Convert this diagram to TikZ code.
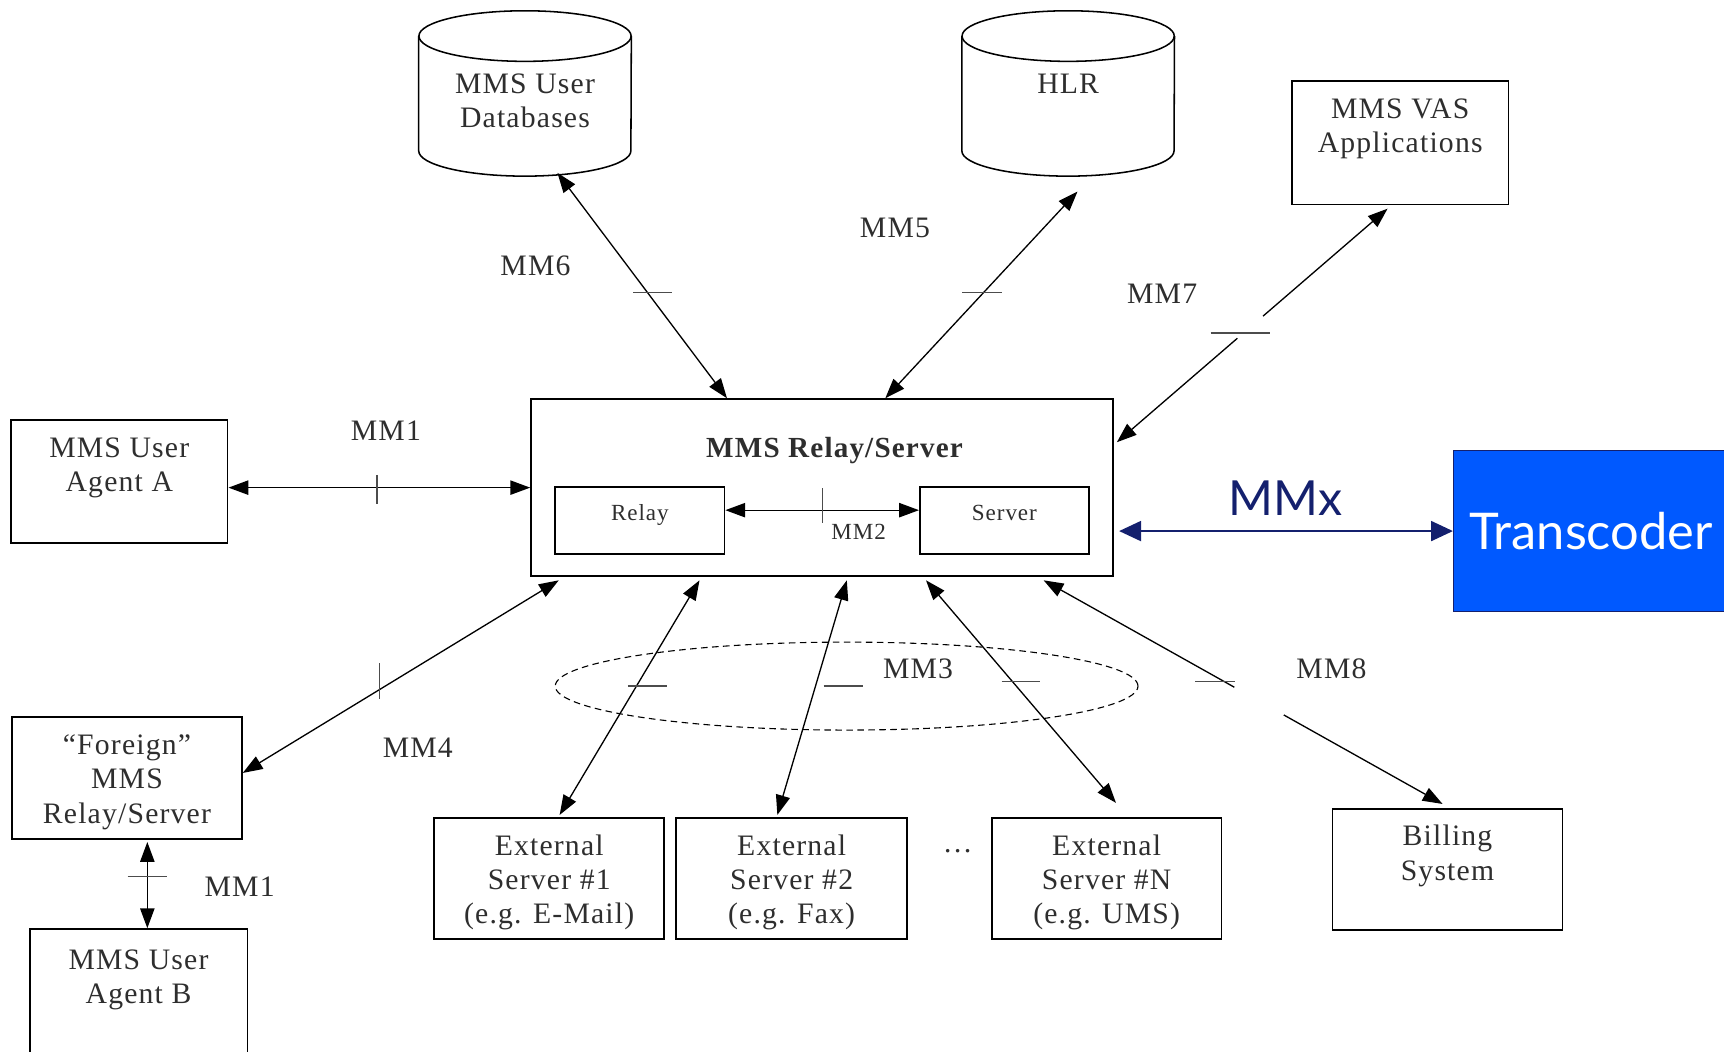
\documentclass[tikz,border=0pt]{standalone}
\usepackage{fontspec}
\setmainfont{Liberation Serif}[LetterSpace=4]
\newfontfamily\gillfont{Lato}
\usetikzlibrary{arrows.meta,shapes.geometric,calc}
\definecolor{txtgray}{HTML}{2E2E2E}
\definecolor{tcblue}{HTML}{0059FF}
\definecolor{mmxnavy}{HTML}{14206E}

\begin{document}
\begin{tikzpicture}[x=1pt, y=1pt,
    every node/.style={text=txtgray, font=\fontsize{27}{31}\selectfont, align=center},
    entity/.style={draw=black, line width=1.6pt, rectangle, inner sep=0pt},
    inner/.style={entity, line width=1.4pt, minimum width=154, minimum height=61,
      text height=14pt, text depth=15pt, font=\fontsize{21}{25}\selectfont},
    store/.style={rectangle, inner sep=0pt, minimum width=193, minimum height=150, text height=62pt},
    cyl/.style={draw=black, line width=1.4pt},
    iface/.style={inner sep=0pt},
    link/.style={line width=1.2pt},
    >={Triangle[length=18pt, width=13pt]},
    tickmark/.style={line width=1.2pt, draw=black!70}]
  \useasboundingbox (0,0) rectangle (1568,-956);
  \clip (0,0) rectangle (1568,-956);

  % MM3 group
  \node (mm3grp) [ellipse, draw, line width=1pt, dash pattern=on 6pt off 4pt,
    minimum width=530, minimum height=80] at (770,-624) {};

  % stores and boxes
  \node (db) [store] at (477.5,-85) {MMS User\\Databases};
  \node (hlr) [store] at (971.5,-85) {HLR\\\mbox{}};
  \foreach \st in {db,hlr} {
    \draw[cyl] ([yshift=-23]\st.north west) -- ([yshift=23]\st.south west)
      arc[start angle=180, end angle=360, x radius=96.5, y radius=23] -- ([yshift=-23]\st.north east);
    \draw[cyl] ([yshift=-23]\st.north) ellipse[x radius=96.5, y radius=23];
  }
  \node (vas) [entity, minimum width=197, minimum height=112] at (1273.5,-130) {MMS VAS\\Applications\\\mbox{}};
  \node (rs) [entity, minimum width=529, minimum height=161] at (747.5,-443.5) {};
  \node (rstitle) [font=\bfseries\fontsize{26.5}{31}\selectfont] at (759,-410) {MMS Relay/Server};
  \node (relay) [inner] at (582,-473.5) {Relay};
  \node (server) [inner] at (913.5,-473.5) {Server};
  \node (uaa) [entity, minimum width=197, minimum height=112] at (108.5,-438) {MMS User\\Agent A\\\mbox{}};
  \node (fr) [entity, minimum width=209, minimum height=111, text height=88pt] at (115.5,-707.5) {“Foreign”\\MMS\\Relay/Server};
  \node (uab) [entity, minimum width=198, minimum height=118] at (126,-904) {MMS User\\Agent B\\\mbox{}};
  \node (ext1) [entity, minimum width=209, minimum height=110, text height=88pt] at (499.5,-799) {External\\Server \#1\\(e.g. E-Mail)};
  \node (ext2) [entity, minimum width=210, minimum height=110, text height=88pt] at (720,-799) {External\\Server \#2\\(e.g. Fax)};
  \node (extn) [entity, minimum width=209, minimum height=110, text height=88pt] at (1006.5,-799) {External\\Server \#N\\(e.g. UMS)};
  \node (dots) at (871,-774) {\dots};
  \node (bill) [entity, minimum width=209, minimum height=110] at (1316.5,-791) {Billing\\System\\\mbox{}};
  \node (tc) [draw=mmxnavy, fill=tcblue, line width=1pt, minimum width=250, minimum height=146,
    text=white, font=\gillfont\fontsize{46}{50}\selectfont] at (1447,-483) {Transcoder};

  % interface labels
  \node (lmm1) [iface] at (351,-392) {MM1};
  \node (lmm6) [iface] at (487,-242) {MM6};
  \node (lmm5) [iface] at (814,-207) {MM5};
  \node (lmm7) [iface] at (1057,-267) {MM7};
  \node (lmm2) [iface, font=\fontsize{21}{25}\selectfont] at (781,-484) {MM2};
  \node (lmm4) [iface] at (380,-680) {MM4};
  \node (lmm1b) [iface] at (218,-806) {MM1};
  \node (lmm3) [iface] at (835,-608) {MM3};
  \node (lmm8) [iface] at (1211,-608) {MM8};
  \node (lmmx) [iface, text=mmxnavy, font=\gillfont\fontsize{44}{48}\selectfont] at (1169,-453) {MMx};

  % connectors
  \draw[link,<->] (rs.west) -- (rs.west -| uaa.east);
  \draw[link,<->] ([yshift=9.5]relay.east) -- ([yshift=9.5]server.west);
  \draw[link,<->] ([xshift=29.5,yshift=3]db.south) -- ([xshift=179]rs.north west);
  \draw[link,<->] ([xshift=8.5,yshift=-14]hlr.south) -- ([xshift=323]rs.north west);
  \draw[link,<->] ([xshift=26,yshift=-3]rs.south west) -- ([yshift=4.5]fr.east);
  \draw[link,<->] ([xshift=18.5,yshift=-2]fr.south) -- ([xshift=18.5]fr.south |- uab.north);
  \foreach \dx/\dest/\ex/\ey in {154/ext1/9.5/2, 288/ext2/-13/2, 360/extn/8.5/13}
    \draw[link,<->] ([xshift=\dx,yshift=-3]rs.south west) -- ([xshift=\ex,yshift=\ey]\dest.north);

  \coordinate (p7a) at ([xshift=-11.5,yshift=-3]vas.south);
  \coordinate (p7b) at ([xshift=3,yshift=-40]rs.north east);
  \draw[link,<-] (p7a) -- ($(p7a)!0.46!(p7b)$);
  \draw[link,->] ($(p7a)!0.555!(p7b)$) -- (p7b);

  \coordinate (p8a) at ([xshift=467,yshift=-3]rs.south west);
  \coordinate (p8b) at ([xshift=-4.5,yshift=4]bill.north);
  \draw[link,<-] (p8a) -- ($(p8a)!0.478!(p8b)$);
  \draw[link,->] ($(p8a)!0.602!(p8b)$) -- (p8b);

  \draw[line width=2.5pt, draw=mmxnavy, {Triangle[length=20pt, width=18pt]}-{Triangle[length=20pt, width=18pt]}]
    ([xshift=5]rs.east |- tc.west) -- (tc.west);

  % ticks
  \foreach \xa/\ya/\xb/\yb in {343/432/343/458, 748/444/748/476, 576/266/611/266, 875/266/911/266,
      1101/303/1155/303, 345/603/345/636, 116/797/152/797, 571/624/607/624,
      749/624/785/624, 911/620/946/620, 1087/620/1123/620}
    \draw[tickmark] (\xa,-\ya) -- (\xb,-\yb);
\end{tikzpicture}
\end{document}
